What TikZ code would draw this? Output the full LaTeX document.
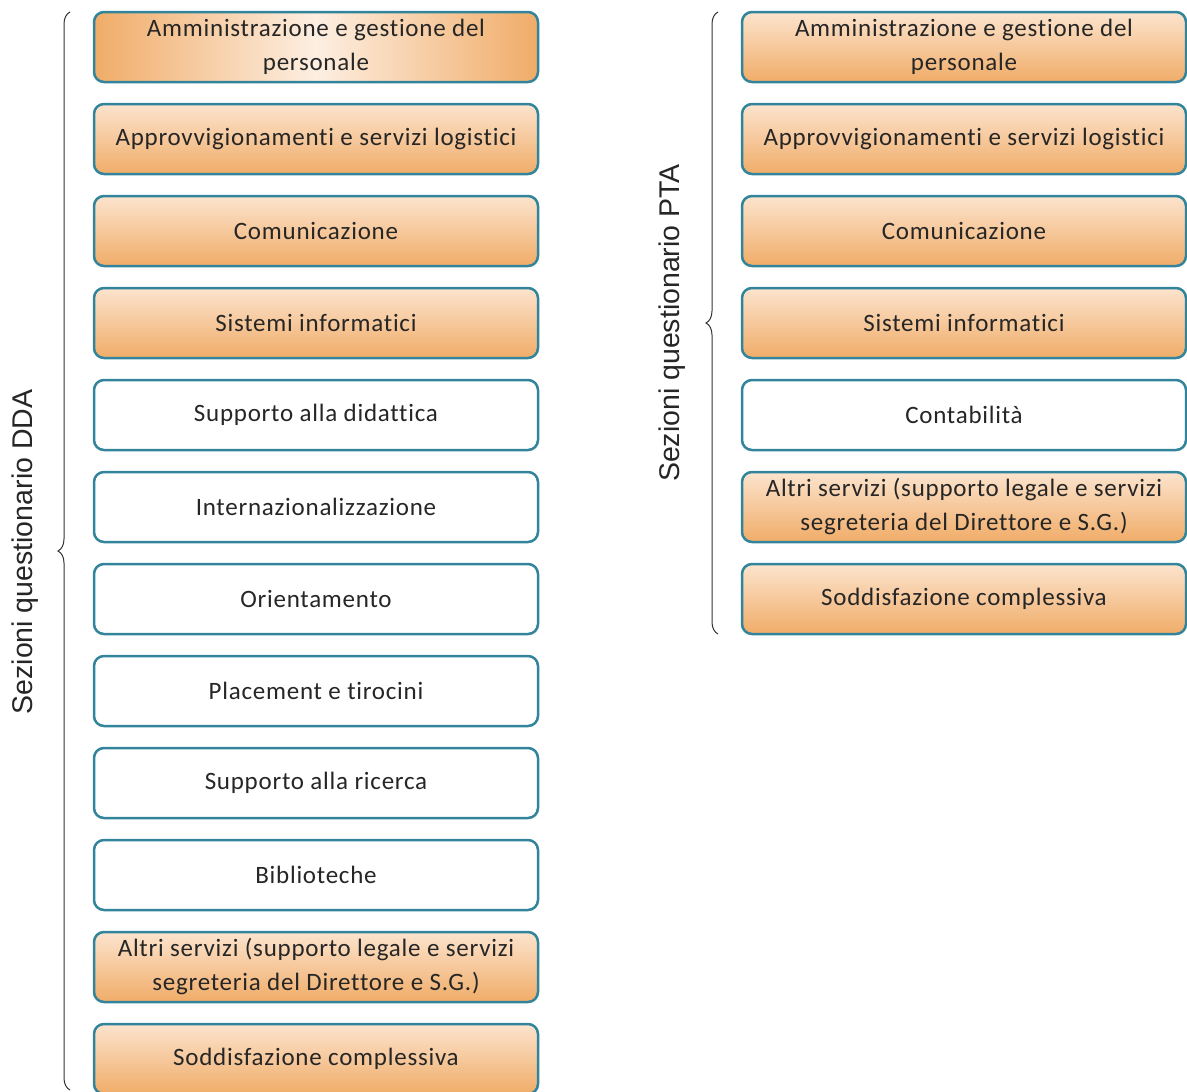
\documentclass[tikz,border=0pt]{standalone}
\usepackage{fontspec}
\setmainfont{Carlito}[Ligatures={NoCommon}, LetterSpace=3]
\newfontfamily\arialfont{Liberation Sans}
\usetikzlibrary{decorations.pathreplacing}

\definecolor{bordo}{RGB}{49,132,155}
\definecolor{pesca}{RGB}{252,228,206}
\definecolor{arancio}{RGB}{240,172,104}

\begin{document}
\begin{tikzpicture}
[x=1pt, y=1pt, font=\fontsize{25}{34}\selectfont,
every node/.style={draw=bordo, line width=2.5pt, rounded corners=10pt,
  minimum width=444pt, minimum height=70pt, align=center, text=black!85,
  execute at begin node={\vspace*{6pt}}},
bianco/.style={fill=white},
arancio/.style={top color=pesca, bottom color=arancio},
radiale/.style={left color=arancio, right color=arancio, middle color=pesca!60},
graffa/.style={draw=black!80, line width=1pt, decorate,
  decoration={brace, amplitude=12pt}},
etichetta/.style={draw=none, rotate=90, font=\arialfont\fontsize{28.5}{32}\selectfont,
  minimum width=0pt, minimum height=0pt, text=black!85, align=none,
  execute at begin node={}},
]

\useasboundingbox (0,0) rectangle (1187,-1092);

% sezioni DDA
\node[radiale] (D1) at (316,-47) {Amministrazione e gestione del\\personale};
\node[arancio] (D2) at (316,-139) {Approvvigionamenti e servizi logistici};
\node[arancio] (D3) at (316,-231) {Comunicazione};
\node[arancio] (D4) at (316,-323) {Sistemi informatici};
\node[bianco] (D5) at (316,-415) {Supporto alla didattica};
\node[bianco] (D6) at (316,-507) {Internazionalizzazione};
\node[bianco] (D7) at (316,-599) {Orientamento};
\node[bianco] (D8) at (316,-691) {Placement e tirocini};
\node[bianco] (D9) at (316,-783) {Supporto alla ricerca};
\node[bianco] (D10) at (316,-875) {Biblioteche};
\node[arancio] (D11) at (316,-967) {Altri servizi (supporto legale e servizi\\segreteria del Direttore e S.G.)};
\node[arancio] (D12) at (316,-1059) {Soddisfazione complessiva};

% sezioni PTA
\node[arancio] (P1) at (964,-47) {Amministrazione e gestione del\\personale};
\node[arancio] (P2) at (964,-139) {Approvvigionamenti e servizi logistici};
\node[arancio] (P3) at (964,-231) {Comunicazione};
\node[arancio] (P4) at (964,-323) {Sistemi informatici};
\node[bianco] (P5) at (964,-415) {Contabilità};
\node[arancio] (P6) at (964,-507) {Altri servizi (supporto legale e servizi\\segreteria del Direttore e S.G.)};
\node[arancio] (P7) at (964,-599) {Soddisfazione complessiva};

% graffe
\coordinate (gD1) at (70,-1090);
\coordinate (gD2) at (70,-12);
\coordinate (gP1) at (718,-634);
\coordinate (gP2) at (718,-12);
\draw[graffa] (gD1) -- (gD2);
\draw[graffa] (gP1) -- (gP2);

\node[etichetta] (DDA) at (25,-552) {Sezioni questionario DDA};
\node[etichetta] (PTA) at (672,-323) {Sezioni questionario PTA};

\end{tikzpicture}
\end{document}
